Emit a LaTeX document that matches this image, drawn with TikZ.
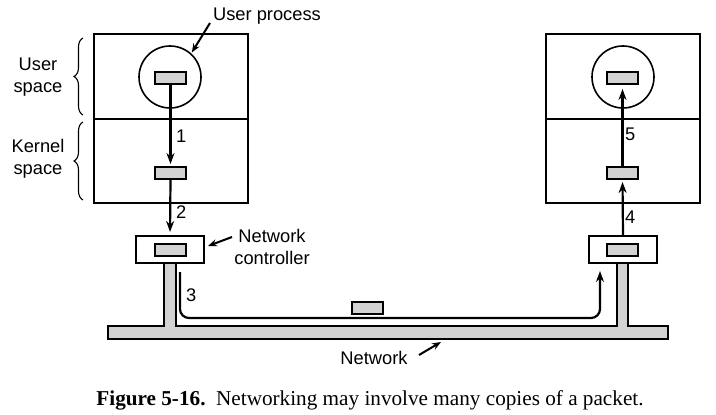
\documentclass[tikz,border=0pt]{standalone}
\usepackage{fontspec}
\setmainfont{Liberation Serif}
\setsansfont{Liberation Sans}
\usetikzlibrary{arrows.meta,decorations.pathreplacing}
\definecolor{pktgray}{RGB}{210,210,210}
\begin{document}
\begin{tikzpicture}[x=1pt,y=-1pt,
  box/.style={draw,line width=2pt,minimum width=154pt,inner sep=0pt,outer sep=0pt},
  proc/.style={draw,circle,line width=1.6pt,minimum size=62pt,inner sep=0pt},
  pkt/.style={draw,fill=pktgray,line width=2pt,minimum width=31pt,minimum height=12pt,inner sep=0pt},
  ctrl/.style={draw,fill=white,line width=2pt,minimum width=68pt,minimum height=27pt,inner sep=0pt},
  flow/.style={line width=2.2pt,-{Stealth[length=11pt,width=8pt]}},
  pointer/.style={line width=2pt,-{Stealth[length=9pt,width=7pt]}},
  lbl/.style={font=\sffamily\fontsize{18.3}{22}\selectfont,inner sep=0pt,align=center},
  num/.style={font=\sffamily\fontsize{18.3}{22}\selectfont,inner sep=0pt,anchor=west},
  brc/.style={decorate,decoration={brace,amplitude=9pt},line width=1.1pt}]
\useasboundingbox (0,0) rectangle (716,415);
% network bar with stems
\draw[fill=pktgray,line width=2pt,line join=miter]
  (108,326) -- (164,326) -- (164,263) -- (176,263) -- (176,326) -- (617,326)
  -- (617,263) -- (628,263) -- (628,326) -- (668,326) -- (668,339) -- (108,339) -- cycle;
% left host
\node[box,minimum height=85pt] (lus) at (171,76.5) {};
\node[box,minimum height=84pt] (lks) at (171,161) {};
\node[proc] (lproc) at (170,77) {};
\node[pkt] (lupk) at (170.5,78) {};
\node[pkt] (lkpk) at (170.5,173) {};
\node[ctrl] (lnc) at (170,249.5) {};
\node[pkt] (lnpk) at (170.5,249.5) {};
% right host
\node[box,minimum height=85pt] (rus) at (623,76.5) {};
\node[box,minimum height=84pt] (rks) at (623,161) {};
\node[proc] (rproc) at (623,77) {};
\node[pkt] (rupk) at (622.5,78) {};
\node[pkt] (rkpk) at (622.5,173) {};
\node[ctrl] (rnc) at (623,249.5) {};
\node[pkt] (rnpk) at (622.5,249.5) {};
% packet on the wire
\node[pkt] (mpk) at (367.5,307.5) {};
% flows
\draw[flow,shorten >=2pt] (lupk.south) -- (lkpk.north);
\draw[flow,shorten >=3pt] (lkpk.south) -- (lnc.north);
\coordinate (p3s) at (180,272);
\coordinate (p3m) at (390,318);
\coordinate (p3e) at (600,271);
\draw[flow,rounded corners=9pt] (p3s) |- (p3m) -| (p3e);
\draw[flow,shorten >=2pt] (rnc.north) -- (rkpk.south);
\draw[flow,shorten >=4pt] (rkpk.north) -- (rupk.south);
\node[num] (n1) at (176,136) {1};
\node[num] (n2) at (176,212) {2};
\node[num] (n3) at (186,295) {3};
\node[num] (n4) at (625,217) {4};
\node[num] (n5) at (625,134) {5};
% labels
\node[lbl] (upl) at (267,16) {User process};
\coordinate (upa) at (210,23);
\draw[pointer,shorten >=1pt] (upa) -- (lproc.48);
\node[lbl] (ncl) at (272,247) {Network\\controller};
\coordinate (nca) at (232,237);
\coordinate (ncb) at (208,246);
\draw[pointer] (nca) -- (ncb);
\node[lbl] (netl) at (374,358) {Network};
\coordinate (neta) at (419,355);
\coordinate (netb) at (441,342);
\draw[pointer] (neta) -- (netb);
\node[lbl] (usl) at (38,77) {User\\space};
\node[lbl] (ksl) at (38,158.5) {Kernel\\space};
\coordinate (ub1) at (83,115);
\coordinate (ub2) at (83,38);
\coordinate (kb1) at (83,200);
\coordinate (kb2) at (83,122);
\draw[brc] (ub1) -- (ub2);
\draw[brc] (kb1) -- (kb2);
% caption
\node[font=\fontsize{21.2}{24}\selectfont,inner sep=0pt] (cap) at (370,400)
  {\textbf{Figure 5-16.}\ \ Networking may involve many copies of a packet.};
\end{tikzpicture}
\end{document}
